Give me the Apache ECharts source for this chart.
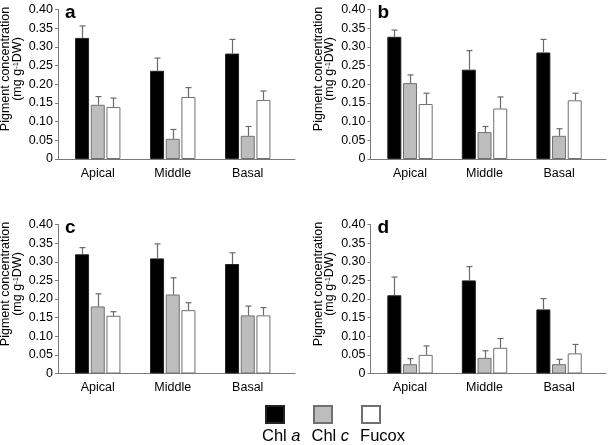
<!DOCTYPE html>
<html>
<head>
<meta charset="utf-8">
<script src="https://cdn.jsdelivr.net/npm/echarts@6/dist/echarts.min.js"></script>
<style>
html,body{margin:0;padding:0;background:#fff;}
#chart{width:609px;height:445px;}
</style>
</head>
<body>
<div id="chart"></div>
<script>
// ---- data ----
const categories = ['Apical', 'Middle', 'Basal'];
const categoryPositions = [1, 2, 3];
const seriesNames = ['Chl a', 'Chl c', 'Fucox'];
const panelLetters = ['a', 'b', 'c', 'd'];
const yMin = 0, yMax = 0.40, yStep = 0.05;

// panel a
const aChlA = [0.324, 0.236, 0.282];
const aChlAErr = [0.032, 0.034, 0.038];
const aChlC = [0.145, 0.054, 0.062];
const aChlCErr = [0.022, 0.025, 0.025];
const aFucox = [0.139, 0.166, 0.158];
const aFucoxErr = [0.024, 0.025, 0.024];
// panel b
const bChlA = [0.327, 0.239, 0.285];
const bChlAErr = [0.018, 0.051, 0.035];
const bChlC = [0.203, 0.072, 0.062];
const bChlCErr = [0.022, 0.015, 0.019];
const bFucox = [0.147, 0.135, 0.157];
const bFucoxErr = [0.029, 0.031, 0.019];
// panel c
const cChlA = [0.320, 0.309, 0.294];
const cChlAErr = [0.018, 0.039, 0.030];
const cChlC = [0.180, 0.212, 0.156];
const cChlCErr = [0.034, 0.045, 0.025];
const cFucox = [0.155, 0.170, 0.156];
const cFucoxErr = [0.011, 0.020, 0.021];
// panel d
const dChlA = [0.210, 0.250, 0.172];
const dChlAErr = [0.049, 0.037, 0.029];
const dChlC = [0.025, 0.042, 0.025];
const dChlCErr = [0.015, 0.019, 0.013];
const dFucox = [0.050, 0.069, 0.054];
const dFucoxErr = [0.024, 0.025, 0.024];

const panels = [
  {vals: [aChlA, aChlC, aFucox], errs: [aChlAErr, aChlCErr, aFucoxErr]},
  {vals: [bChlA, bChlC, bFucox], errs: [bChlAErr, bChlCErr, bFucoxErr]},
  {vals: [cChlA, cChlC, cFucox], errs: [cChlAErr, cChlCErr, cFucoxErr]},
  {vals: [dChlA, dChlC, dFucox], errs: [dChlAErr, dChlCErr, dFucoxErr]}
];

// ---- layout / style ----
const FONT = 'Liberation Sans, Arial, Helvetica, sans-serif';
const layouts = [
  {left: 58, top: 9.5, width: 237, height: 149.5},
  {left: 370.5, top: 9.5, width: 235.5, height: 149.5},
  {left: 58, top: 224.5, width: 237, height: 149},
  {left: 370.5, top: 224.5, width: 235.5, height: 149}
];
const barColors = ['#000000', '#bdbdbd', '#ffffff'];
const barBorders = ['#222222', '#707070', '#707070'];
const BAR_W = 14, GAP_RATIO = 0.12;
const AXIS_COLOR = '#7a7a7a';
const ERR_COLOR = '#6a6a6a';

const grids = [], xAxes = [], yAxes = [], series = [], graphics = [];

layouts.forEach((L, p) => {
  grids.push(Object.assign({outerBoundsMode: 'none', containLabel: false}, L));
  xAxes.push({
    type: 'value', gridIndex: p, min: 0.47, max: 3.63,
    axisLine: {show: true, onZero: false, lineStyle: {color: AXIS_COLOR, width: 1}},
    axisTick: {show: false},
    splitLine: {show: false},
    axisLabel: {
      customValues: categoryPositions,
      formatter: v => categories[categoryPositions.indexOf(v)] || '',
      fontFamily: FONT, fontSize: 12.5, color: '#000', margin: 8
    }
  });
  yAxes.push({
    type: 'value', gridIndex: p, min: yMin, max: yMax, interval: yStep,
    axisLine: {show: true, lineStyle: {color: AXIS_COLOR, width: 1}},
    axisTick: {show: true, length: 3, lineStyle: {color: AXIS_COLOR}},
    splitLine: {show: false},
    axisLabel: {
      formatter: v => (Math.abs(v) < 1e-9 ? '0' : v.toFixed(2)),
      fontFamily: FONT, fontSize: 12.5, color: '#000', margin: 5
    }
  });
  const P = panels[p];
  for (let s = 0; s < 3; s++) {
    series.push({
      name: seriesNames[s], type: 'bar', xAxisIndex: p, yAxisIndex: p,
      barWidth: BAR_W, barGap: (GAP_RATIO * 100) + '%',
      itemStyle: {color: barColors[s], borderColor: barBorders[s], borderWidth: 1},
      emphasis: {disabled: true},
      data: categoryPositions.map((x, i) => [x, P.vals[s][i]])
    });
  }
  for (let s = 0; s < 3; s++) {
    const offset = (s - 1) * (BAR_W * (1 + GAP_RATIO));
    series.push({
      type: 'custom', xAxisIndex: p, yAxisIndex: p, z: 5, silent: true,
      encode: {x: 0, y: 1},
      renderItem: (params, api) => {
        const x = api.value(0), v = api.value(1), e = api.value(2);
        const p0 = api.coord([x, v]);
        const p1 = api.coord([x, v + e]);
        const cx = Math.round(p0[0] + offset) + 0.5;
        return {
          type: 'group',
          children: [
            {type: 'line', shape: {x1: cx, y1: p0[1], x2: cx, y2: p1[1]},
             style: {stroke: ERR_COLOR, lineWidth: 1.2}},
            {type: 'line', shape: {x1: cx - 3, y1: p1[1], x2: cx + 3, y2: p1[1]},
             style: {stroke: ERR_COLOR, lineWidth: 1.2}}
          ]
        };
      },
      data: categoryPositions.map((x, i) => [x, P.vals[s][i], P.errs[s][i]])
    });
  }
  // panel letter
  graphics.push({
    type: 'text', x: L.left + 7, y: L.top + 3,
    style: {text: panelLetters[p], font: 'bold 19px ' + FONT, fill: '#000',
            textAlign: 'left', textVerticalAlign: 'middle'}
  });
  // y axis name
  graphics.push({
    type: 'text', x: L.left - 46.5, y: L.top + 59.5, rotation: Math.PI / 2,
    style: {
      text: '{t|Pigment concentration}\n{t|(mg g}{s|-1}{t|DW)}',
      textAlign: 'center', textVerticalAlign: 'middle', fill: '#000',
      rich: {
        t: {fontFamily: FONT, fontSize: 12.5, lineHeight: 11.5, fill: '#000'},
        s: {fontFamily: FONT, fontSize: 7.5, lineHeight: 11.5, verticalAlign: 'top', fill: '#000'}
      }
    }
  });
});

const option = {
  animation: false,
  backgroundColor: '#fff',
  grid: grids, xAxis: xAxes, yAxis: yAxes, series: series,
  graphic: graphics,
  legend: [
    {
      data: seriesNames, left: 265, top: 405, orient: 'horizontal', padding: 0,
      itemWidth: 18, itemHeight: 17, itemGap: 28, icon: 'rect',
      selectedMode: false, formatter: () => '',
      textStyle: {fontSize: 1}
    },
    {
      data: seriesNames, left: 256, top: 428, orient: 'horizontal', padding: 0,
      itemWidth: 1, itemHeight: 1, itemGap: 5, icon: 'rect',
      selectedMode: false,
      itemStyle: {color: 'rgba(0,0,0,0)', borderWidth: 0, opacity: 0},
      formatter: name => {
        const parts = name.split(' ');
        return parts.length > 1 ? '{n|' + parts[0] + ' }{i|' + parts[1] + '}' : '{n|' + name + '}';
      },
      textStyle: {
        fontFamily: FONT, fontSize: 16.5, color: '#000',
        rich: {
          n: {fontFamily: FONT, fontSize: 16.5, color: '#000'},
          i: {fontFamily: FONT, fontSize: 16.5, fontStyle: 'italic', color: '#000'}
        }
      }
    }
  ]
};

const chart = echarts.init(document.getElementById('chart'), null, {renderer: 'canvas'});
chart.setOption(option);
</script>
</body>
</html>
